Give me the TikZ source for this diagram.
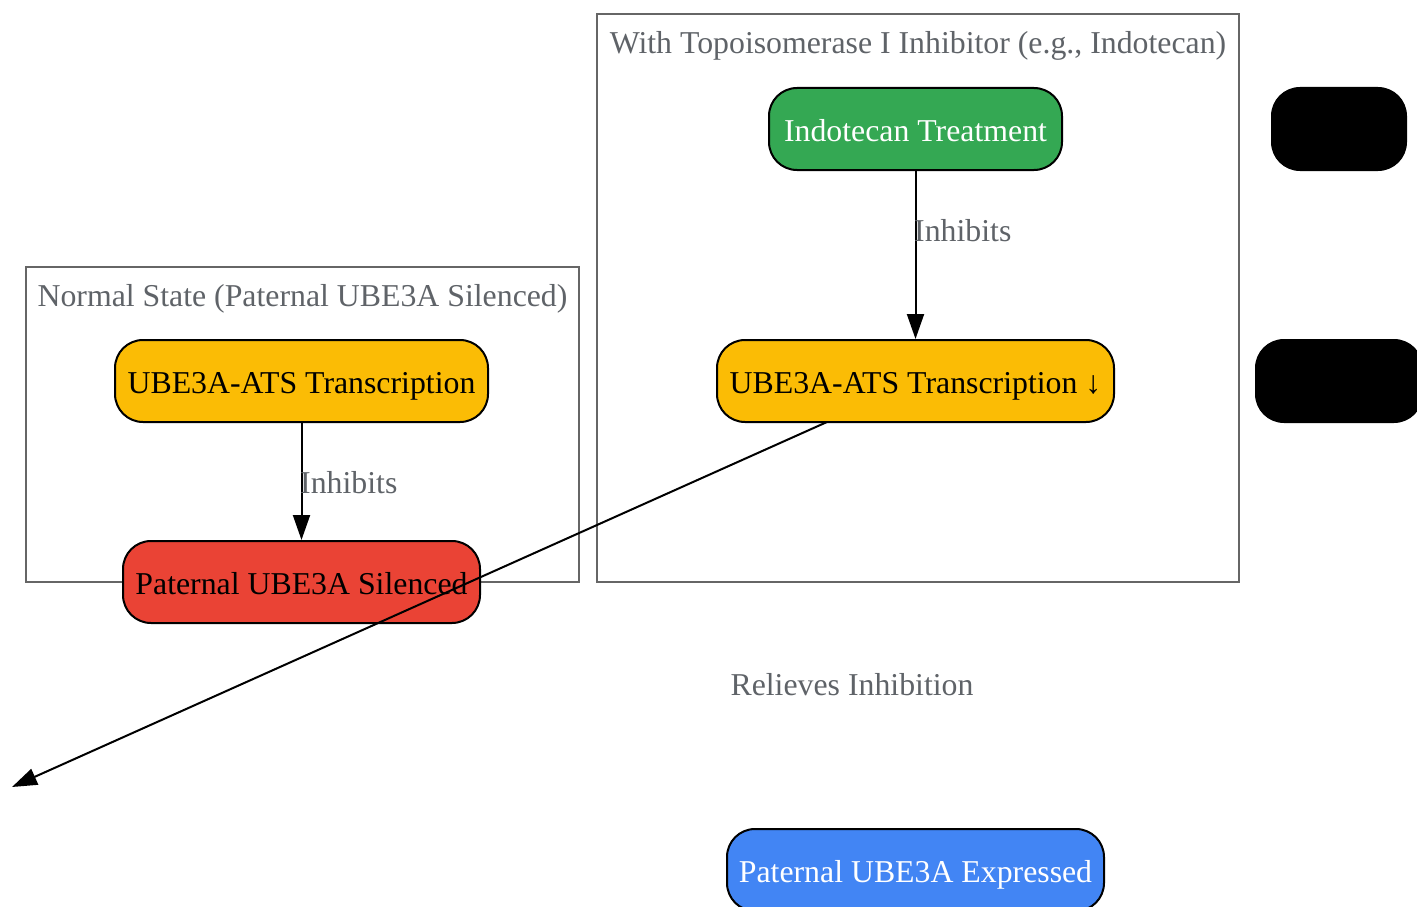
\documentclass[tikz,border=0pt]{standalone}
\usepackage{fontspec}
\setmainfont{Liberation Serif}
\usetikzlibrary{arrows.meta}
\definecolor{cgreen}{HTML}{34A853}
\definecolor{cyellow}{HTML}{FBBC05}
\definecolor{cred}{HTML}{EA4335}
\definecolor{cblue}{HTML}{4285F4}
\definecolor{cgray}{HTML}{5F6368}
\definecolor{cborder}{HTML}{666666}
\tikzset{
  box/.style={draw=black, line width=2pt, rounded corners=28pt, minimum height=82pt, inner sep=0pt, text height=25pt, text depth=0pt, font=\fontsize{31.8}{36}\selectfont},
  cluster/.style={draw=cborder, line width=2pt},
  clabel/.style={text=cgray, font=\fontsize{31.8}{36}\selectfont, inner sep=0pt},
  elabel/.style={text=cgray, font=\fontsize{31.8}{36}\selectfont, inner sep=0pt},
  edge/.style={draw=black, line width=2pt, -{Triangle[length=25pt,width=17pt]}},
}
\begin{document}
\begin{tikzpicture}[x=1pt,y=-1pt]
\useasboundingbox (0,0) rectangle (1417,907);
\clip (0,0) rectangle (1417,907);
% clusters
\draw[cluster] (26,267) rectangle (579,582);
\node[clabel] (cl1) at (302.5,299) {Normal State (Paternal UBE3A Silenced)};
\draw[cluster] (597,14) rectangle (1239,582);
\node[clabel] (cl2) at (918,46) {With Topoisomerase I Inhibitor (e.g., Indotecan)};
% nodes
\node[box, fill=cgreen, text=white, minimum width=293pt] (indo) at (915.5,129) {Indotecan Treatment};
\node[box, fill=cyellow, text=black, minimum width=397pt] (atsd) at (915.5,381) {UBE3A-ATS Transcription \char"2193};
\node[box, fill=cyellow, text=black, minimum width=373pt] (ats) at (301.5,381) {UBE3A-ATS Transcription};
\node[box, fill=cred, text=black, minimum width=357pt] (sil) at (301.5,582) {Paternal UBE3A Silenced};
\node[box, fill=cblue, text=white, minimum width=377pt] (expr) at (915.5,870) {Paternal UBE3A Expressed};
\node[box, fill=black, minimum width=134pt] (blk1) at (1339,129) {};
\node[box, fill=black, minimum width=166pt] (blk2) at (1339,381) {};
% edges
\draw[edge] (indo) -- (atsd);
\node[elabel, anchor=west] (l1) at (914,231) {Inhibits};
\draw[edge] (ats) -- (sil);
\node[elabel, anchor=west] (l2) at (300,483) {Inhibits};
\coordinate (tip) at (12,787);
\coordinate (start) at (827,422);
\draw[edge] (start) -- (tip);
\node[elabel] (l3) at (852,685) {Relieves Inhibition};
\end{tikzpicture}
\end{document}
